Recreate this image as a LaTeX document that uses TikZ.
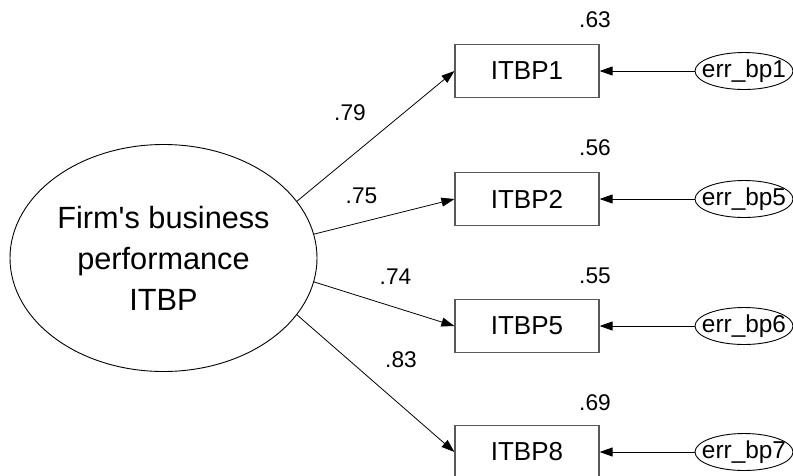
\documentclass[tikz,border=0pt]{standalone}
\usepackage{fontspec}
\setmainfont{Liberation Sans}
\usetikzlibrary{shapes.geometric,arrows.meta}
\begin{document}
\begin{tikzpicture}[x=1pt,y=-1pt,
  latent/.style={ellipse,draw,line width=0.9pt,inner sep=0pt,outer sep=0pt,
    minimum width=307pt,minimum height=227pt,align=center,
    font=\fontsize{30.7}{41}\selectfont},
  observed/.style={rectangle,draw=black!65,line width=1.2pt,inner sep=0pt,
    minimum width=144pt,minimum height=53pt,font=\fontsize{26}{30}\selectfont},
  errvar/.style={ellipse,draw,line width=0.9pt,inner xsep=-7.5pt,inner ysep=0pt,
    outer sep=0pt,minimum width=98pt,minimum height=37pt,
    font=\fontsize{24.4}{28}\selectfont},
  coef/.style={inner sep=0pt,font=\fontsize{22.7}{26}\selectfont},
  loading/.style={-{Triangle[length=13pt,width=9pt]},line width=0.8pt},
]
\useasboundingbox (0,0) rectangle (793,475);

% latent factor
\node[latent] (F) at (163.5,258) {Firm\textquotesingle s business\\performance\\ITBP};

% indicators
\node[observed] (b1) at (527,71)  {ITBP1};
\node[observed] (b2) at (527,199) {ITBP2};
\node[observed] (b5) at (527,326) {ITBP5};
\node[observed] (b8) at (527,452) {ITBP8};

% error terms
\node[errvar] (e1) at (744,71)  {err\_bp1};
\node[errvar] (e2) at (744,199) {err\_bp5};
\node[errvar] (e5) at (744,326) {err\_bp6};
\node[errvar] (e8) at (744,452) {err\_bp7};

% factor loadings
\draw[loading] (F.23.5) -- (b1.west);
\draw[loading] (F.9)    -- (b2.west);
\draw[loading] (F.-9)   -- (b5.west);
\draw[loading] (F.-23.5) -- (b8.west);

% error paths
\draw[loading] (e1.west) -- (b1.east);
\draw[loading] (e2.west) -- (b2.east);
\draw[loading] (e5.west) -- (b5.east);
\draw[loading] (e8.west) -- (b8.east);

% standardized loadings
\node[coef] (l1) at (350,113)   {.79};
\node[coef] (l2) at (361.5,196) {.75};
\node[coef] (l5) at (395.5,277) {.74};
\node[coef] (l8) at (401,360)   {.83};

% squared multiple correlations
\node[coef] (r1) at (595,20)  {.63};
\node[coef] (r2) at (595,148) {.56};
\node[coef] (r5) at (595,276) {.55};
\node[coef] (r8) at (595,403) {.69};
\end{tikzpicture}
\end{document}
